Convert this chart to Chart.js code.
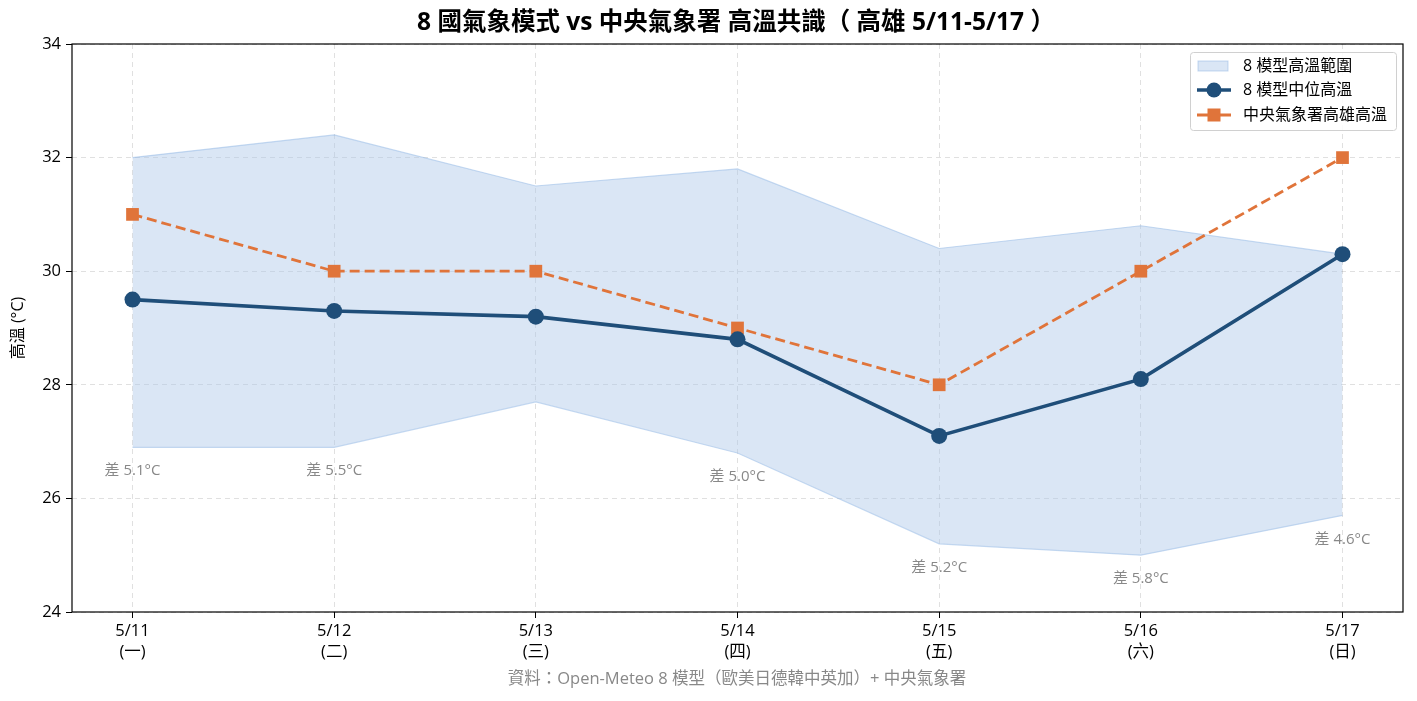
<!DOCTYPE html>
<html>
<head>
<meta charset="utf-8">
<script src="https://cdn.jsdelivr.net/npm/chart.js@4.4.0/dist/chart.umd.min.js"></script>
<style>
  html, body { margin: 0; padding: 0; background: #fff; }
  #wrap { width: 1417px; height: 701px; }
</style>
</head>
<body>
<div id="wrap"><canvas id="lineChart" width="1417" height="701"></canvas></div>
<script>
// data
var dates = ['5/11', '5/12', '5/13', '5/14', '5/15', '5/16', '5/17'];
var weekdays = ['(一)', '(二)', '(三)', '(四)', '(五)', '(六)', '(日)'];
var rangeHigh = [32.0, 32.4, 31.5, 31.8, 30.4, 30.8, 30.3];
var rangeLow = [26.9, 26.9, 27.7, 26.8, 25.2, 25.0, 25.7];
var medianHigh = [29.5, 29.3, 29.2, 28.8, 27.1, 28.1, 30.3];
var cwaHigh = [31, 30, 30, 29, 28, 30, 32];
var yTicks = [24, 26, 28, 30, 32, 34];

var FONT = '"Open Sans", "Noto Sans CJK TC", sans-serif';
var BLUE = '#1f4e79';
var ORANGE = '#e0743a';
var FILL = 'rgba(174, 199, 232, 0.45)';
var EDGE = 'rgba(150, 185, 230, 0.55)';

function pts(arr) {
	return arr.map(function(v, i) { return { x: i, y: v }; });
}

// extra drawing: frame, title, spread labels, legend, source note
var extras = {
	id: 'extras',
	afterDraw: function(chart) {
		var ctx = chart.ctx;
		var a = chart.chartArea;
		var xs = chart.scales.x, ys = chart.scales.y;
		ctx.save();

		// frame
		ctx.strokeStyle = '#000';
		ctx.lineWidth = 1.2;
		ctx.strokeRect(a.left, a.top, a.right - a.left, a.bottom - a.top);

		// title
		ctx.fillStyle = '#000';
		ctx.font = 'bold 24.5px ' + FONT;
		ctx.textAlign = 'center';
		ctx.textBaseline = 'middle';
		ctx.fillText('8 國氣象模式 vs 中央氣象署 高溫共識（ 高雄 5/11-5/17 ）', 736, 23);

		// spread labels
		ctx.font = '15px ' + FONT;
		ctx.fillStyle = '#888';
		for (var i = 0; i < dates.length; i++) {
			var d = rangeHigh[i] - rangeLow[i];
			if (d < 4) continue;
			ctx.fillText('差 ' + d.toFixed(1) + '°C', xs.getPixelForValue(i), ys.getPixelForValue(rangeLow[i] - 0.42));
		}

		// source note
		ctx.font = '16.5px ' + FONT;
		ctx.fillStyle = '#888';
		ctx.fillText('資料：Open-Meteo 8 模型（歐美日德韓中英加）+ 中央氣象署', 737, 679);

		// legend
		var lx = 1190, ly = 52, lw = 206, lh = 78;
		ctx.fillStyle = 'rgba(255,255,255,0.85)';
		ctx.strokeStyle = '#d0d0d0';
		ctx.lineWidth = 1;
		ctx.beginPath();
		ctx.roundRect(lx + 0.5, ly + 0.5, lw, lh, 3);
		ctx.fill();
		ctx.stroke();

		ctx.font = '16px ' + FONT;
		ctx.textAlign = 'left';
		var rows = [66, 90, 115];

		ctx.fillStyle = FILL;
		ctx.fillRect(1198, rows[0] - 5, 30, 10);
		ctx.strokeStyle = EDGE;
		ctx.strokeRect(1198, rows[0] - 5, 30, 10);

		ctx.strokeStyle = BLUE;
		ctx.lineWidth = 3.6;
		ctx.beginPath(); ctx.moveTo(1197, rows[1]); ctx.lineTo(1231, rows[1]); ctx.stroke();
		ctx.fillStyle = BLUE;
		ctx.beginPath(); ctx.arc(1214, rows[1], 7.5, 0, Math.PI * 2); ctx.fill();

		ctx.strokeStyle = ORANGE;
		ctx.lineWidth = 2.8;
		ctx.beginPath(); ctx.moveTo(1197, rows[2]); ctx.lineTo(1231, rows[2]); ctx.stroke();
		ctx.fillStyle = ORANGE;
		ctx.fillRect(1207.5, rows[2] - 6.5, 13, 13);

		ctx.fillStyle = '#000';
		ctx.fillText('8 模型高溫範圍', 1243, rows[0]);
		ctx.fillText('8 模型中位高溫', 1243, rows[1]);
		ctx.fillText('中央氣象署高雄高溫', 1243, rows[2]);

		ctx.restore();
	}
};

var ctx = document.getElementById('lineChart').getContext('2d');
var chart = new Chart(ctx, {
	type: 'line',
	data: {
		datasets: [{
			label: '8 模型高溫範圍',
			data: pts(rangeHigh),
			borderColor: EDGE,
			borderWidth: 1.2,
			backgroundColor: FILL,
			pointRadius: 0,
			fill: '+1',
			order: 3
		}, {
			label: 'low',
			data: pts(rangeLow),
			borderColor: EDGE,
			borderWidth: 1.2,
			backgroundColor: FILL,
			pointRadius: 0,
			fill: false,
			order: 3
		}, {
			label: '中央氣象署高雄高溫',
			data: pts(cwaHigh),
			borderColor: ORANGE,
			borderWidth: 2.8,
			borderDash: [10, 5],
			backgroundColor: ORANGE,
			pointStyle: 'rect',
			pointRadius: 9,
			pointBorderWidth: 0,
			fill: false,
			order: 2
		}, {
			label: '8 模型中位高溫',
			data: pts(medianHigh),
			borderColor: BLUE,
			borderWidth: 3.6,
			backgroundColor: BLUE,
			pointStyle: 'circle',
			pointRadius: 8,
			pointBorderWidth: 0,
			fill: false,
			order: 1
		}]
	},
	plugins: [extras],
	options: {
		responsive: false,
		animation: false,
		layout: { padding: { top: 44, right: 14, bottom: 0, left: 0 } },
		plugins: {
			legend: { display: false },
			tooltip: { enabled: false },
			title: { display: false }
		},
		scales: {
			x: {
				type: 'linear',
				min: -0.3,
				max: 6.3,
				afterBuildTicks: function(s) {
					s.ticks = dates.map(function(d, i) { return { value: i }; });
				},
				afterFit: function(s) { s.height = 89; },
				ticks: {
					color: '#000',
					font: { family: FONT, size: 16.5, lineHeight: 1.25 },
					padding: 3,
					maxRotation: 0,
					callback: function(v) { return [dates[v], weekdays[v]]; }
				},
				grid: {
					color: 'rgba(0,0,0,0.12)',
					tickColor: '#000',
					tickLength: 6,
					drawOnChartArea: true
				},
				border: { display: false, dash: [5, 4] }
			},
			y: {
				min: 24,
				max: 34,
				afterBuildTicks: function(s) {
					s.ticks = yTicks.map(function(v) { return { value: v }; });
				},
				afterFit: function(s) { s.width = 72; },
				ticks: {
					color: '#000',
					font: { family: FONT, size: 16.5 },
					padding: 5
				},
				title: {
					display: true,
					text: '高溫 (°C)',
					color: '#000',
					font: { family: FONT, size: 16 },
					padding: { top: 9, bottom: 0 }
				},
				grid: {
					color: 'rgba(0,0,0,0.12)',
					tickColor: '#000',
					tickLength: 6
				},
				border: { display: false, dash: [5, 4] }
			}
		}
	}
});
</script>
</body>
</html>
